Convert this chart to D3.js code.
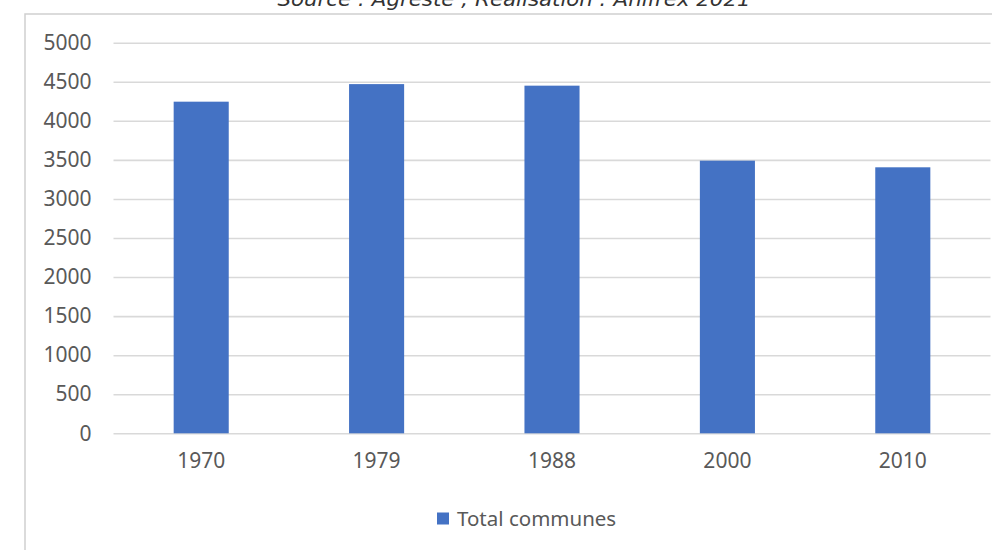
<!DOCTYPE html>
<html>
<head>
<meta charset="utf-8">
<script src="https://cdn.jsdelivr.net/npm/d3@7"></script>
<style>
  html, body { margin: 0; padding: 0; background: #ffffff; }
  svg { display: block; }
</style>
</head>
<body>
<svg id="chart" width="992" height="550"></svg>
<script>
// Number of communes per census year
const years = ["1970", "1979", "1988", "2000", "2010"];
const totalCommunes = [4245, 4470, 4450, 3490, 3405];
const yTicks = [0, 500, 1000, 1500, 2000, 2500, 3000, 3500, 4000, 4500, 5000];
const seriesName = "Total communes";
const sourceText = "Source : Agreste ; Réalisation : Anifrex 2021";

const W = 992, H = 550;
const plot = { left: 113.5, right: 990.5, top: 42.7, bottom: 433.3 };
const barColor = "#4472C4";
const textColor = "#595959";
const gridColor = "#d9d9d9";

const svg = d3.select("#chart");

svg.append("rect").attr("width", W).attr("height", H).attr("fill", "#fff");

// caption above the chart frame
svg.append("text")
  .attr("x", 514).attr("y", 6)
  .attr("text-anchor", "middle")
  .attr("font-family", "DejaVu Sans, sans-serif")
  .attr("font-style", "italic")
  .attr("font-size", 19)
  .attr("fill", "#333")
  .attr("textLength", 473)
  .attr("lengthAdjust", "spacingAndGlyphs")
  .text(sourceText);

// chart frame (top and left edges)
svg.append("path")
  .attr("d", `M${W},14 H25 V${H}`)
  .attr("fill", "none")
  .attr("stroke", "#d0d0d0")
  .attr("stroke-width", 1.5);

const x = d3.scaleBand()
  .domain(years)
  .range([plot.left, plot.right])
  .paddingInner(0.686)
  .paddingOuter(0.343);

const y = d3.scaleLinear()
  .domain([0, 5000])
  .range([plot.bottom, plot.top]);

// horizontal gridlines and value labels
const yAxis = d3.axisLeft(y)
  .tickValues(yTicks)
  .tickSize(-(plot.right - plot.left))
  .tickPadding(22)
  .tickFormat(d3.format("d"));

const gy = svg.append("g")
  .attr("transform", `translate(${plot.left},0)`)
  .call(yAxis);
gy.select(".domain").remove();
gy.selectAll(".tick line")
  .attr("stroke", gridColor)
  .attr("stroke-width", 1.6);
gy.selectAll(".tick text")
  .attr("font-family", "Noto Sans, sans-serif")
  .attr("font-size", 21)
  .attr("fill", textColor);

// bars
svg.append("g")
  .selectAll("rect")
  .data(years.map((yr, i) => ({ yr, v: totalCommunes[i] })))
  .join("rect")
  .attr("x", d => x(d.yr))
  .attr("y", d => y(d.v))
  .attr("width", x.bandwidth())
  .attr("height", d => y(0) - y(d.v))
  .attr("fill", barColor);

// category labels
const xAxis = d3.axisBottom(x).tickSize(0).tickPadding(20);
const gx = svg.append("g")
  .attr("transform", `translate(0,${plot.bottom})`)
  .call(xAxis);
gx.select(".domain").remove();
gx.selectAll(".tick text")
  .attr("font-family", "Noto Sans, sans-serif")
  .attr("font-size", 21)
  .attr("fill", textColor);

// legend
const legend = svg.append("g").attr("transform", "translate(437,512.5)");
legend.append("rect")
  .attr("width", 12).attr("height", 12)
  .attr("fill", barColor);
legend.append("text")
  .attr("x", 20).attr("y", 13.5)
  .attr("font-family", "Noto Sans, sans-serif")
  .attr("font-size", 20.5)
  .attr("fill", textColor)
  .text(seriesName);
</script>
</body>
</html>
